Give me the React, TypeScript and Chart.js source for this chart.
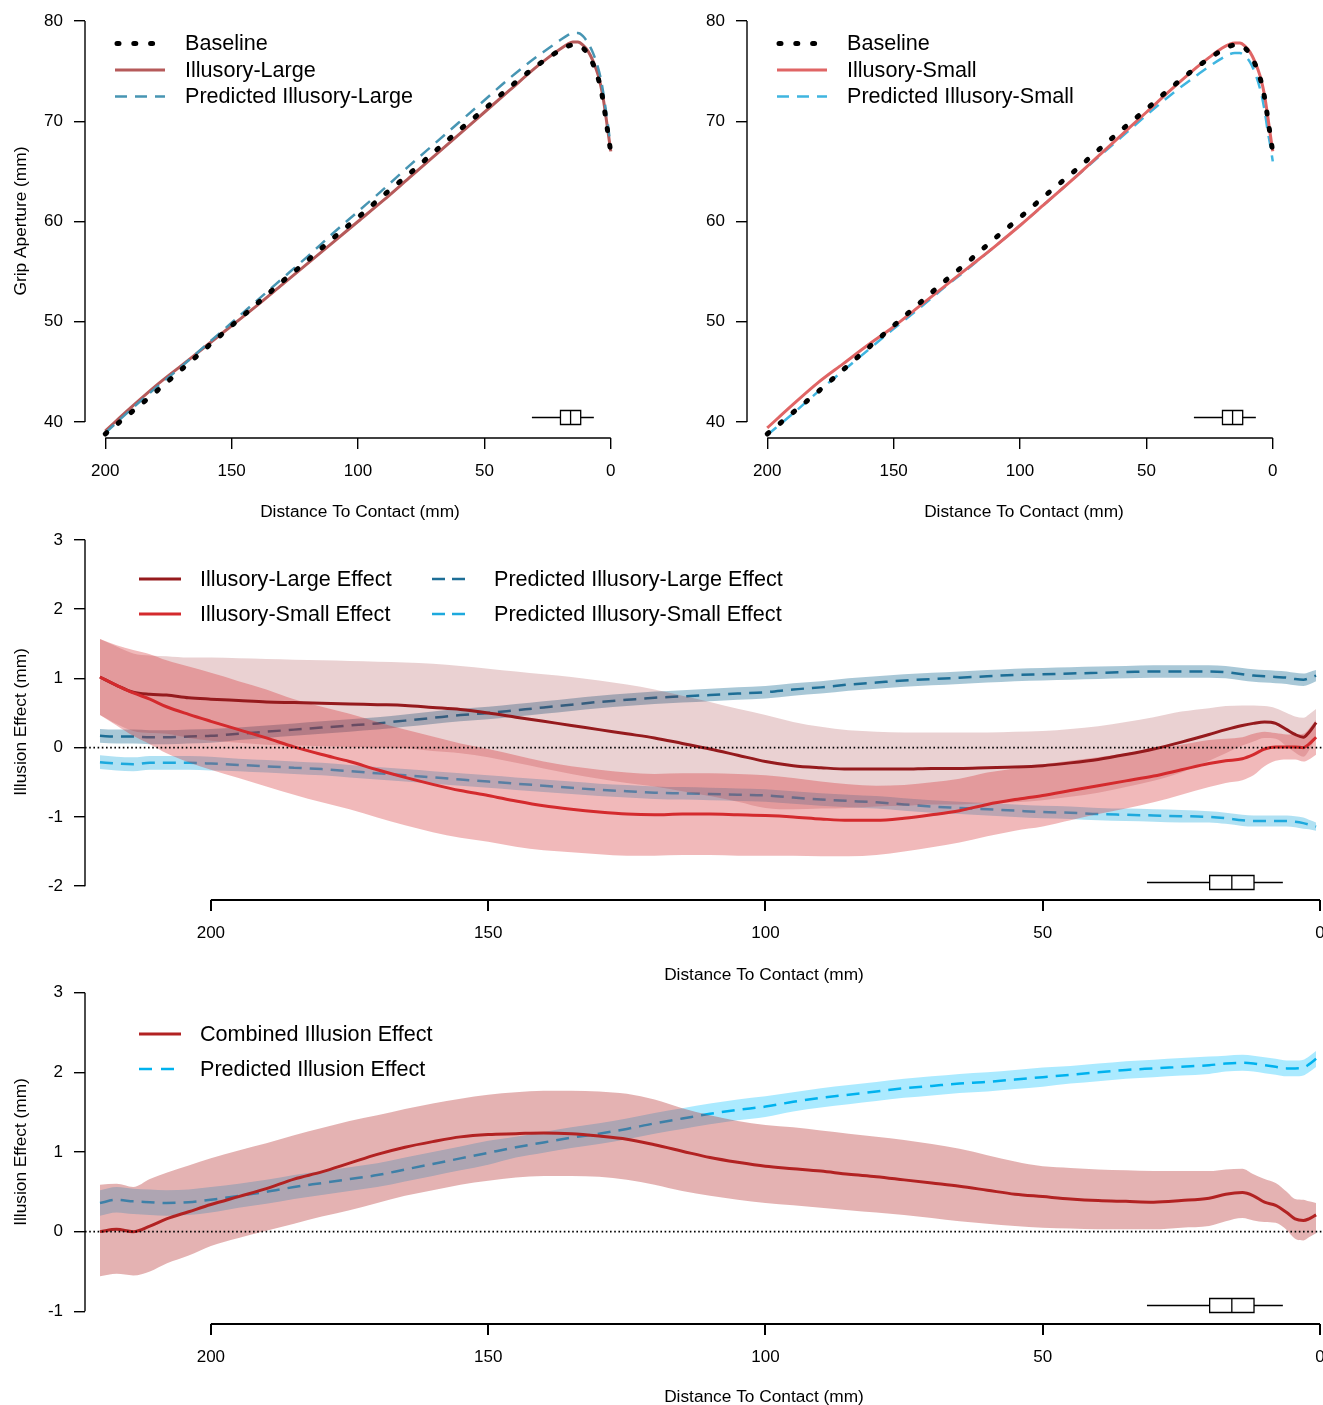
import React, { useEffect, useRef } from "react";
import { Chart, registerables } from "chart.js";

Chart.register(...registerables);

const FONT = "'Liberation Sans', Arial, Helvetica, sans-serif";

// ---------------- Top panels: grip aperture ----------------
const TOP_DIST = [200, 190, 180, 170, 160, 150, 140, 130, 120, 110, 100, 90, 80, 70, 60, 50, 40, 30, 25, 20, 17, 15, 13, 11, 9, 7, 5, 4, 3, 2, 1, 0];
const BASELINE = [38.8, 40.9, 43.0, 45.2, 47.4, 49.6, 51.8, 54.0, 56.1, 58.3, 60.4, 62.6, 64.7, 66.9, 69.1, 71.2, 73.4, 75.4, 76.3, 77.1, 77.5, 77.6, 77.6, 77.3, 76.7, 75.7, 74.3, 73.3, 72.0, 70.3, 68.6, 66.9];
const ILLUSORY_LARGE = [39.1, 41.4, 43.6, 45.6, 47.6, 49.6, 51.6, 53.7, 55.8, 57.9, 60.0, 62.1, 64.3, 66.5, 68.7, 70.9, 73.1, 75.3, 76.3, 77.2, 77.7, 77.9, 77.9, 77.6, 77.0, 76.0, 74.6, 73.6, 72.3, 70.6, 68.8, 67.0];
const PRED_ILLUSORY_LARGE = [38.9, 41.2, 43.4, 45.5, 47.7, 49.9, 52.1, 54.3, 56.5, 58.8, 61.0, 63.2, 65.5, 67.7, 69.9, 72.1, 74.3, 76.3, 77.2, 78.1, 78.6, 78.8, 78.8, 78.5, 77.8, 76.8, 75.3, 74.3, 72.9, 71.2, 69.4, 67.4];
const ILLUSORY_SMALL = [39.4, 41.7, 43.9, 45.8, 47.7, 49.5, 51.5, 53.5, 55.5, 57.5, 59.6, 61.8, 64.0, 66.3, 68.6, 70.9, 73.2, 75.4, 76.4, 77.3, 77.7, 77.8, 77.8, 77.5, 76.9, 75.9, 74.5, 73.5, 72.2, 70.5, 68.7, 67.0];
const PRED_ILLUSORY_SMALL = [38.7, 40.8, 43.0, 45.1, 47.2, 49.3, 51.3, 53.4, 55.4, 57.5, 59.6, 61.8, 64.0, 66.2, 68.4, 70.6, 72.7, 74.6, 75.5, 76.3, 76.7, 76.8, 76.8, 76.5, 75.9, 74.8, 73.2, 72.1, 70.7, 69.0, 67.6, 66.0];
const TOP_X_TICKS = [200, 150, 100, 50, 0];
const TOP_Y_TICKS = [40, 50, 60, 70, 80];

// ---------------- Effect panels ----------------
const EFFECT_DIST = [220, 217, 214, 211, 208, 204, 200, 195, 190, 185, 180, 175, 170, 165, 160, 155, 150, 145, 140, 135, 130, 125, 120, 115, 110, 105, 100, 95, 90, 85, 80, 75, 70, 65, 60, 55, 50, 45, 40, 35, 30, 25, 20, 17, 14, 12, 10, 8, 6, 4.5, 3, 2, 0.7];

const LARGE_EFFECT = [1.02, 0.90, 0.80, 0.77, 0.76, 0.72, 0.70, 0.68, 0.66, 0.65, 0.64, 0.63, 0.62, 0.61, 0.58, 0.55, 0.50, 0.44, 0.38, 0.32, 0.26, 0.20, 0.14, 0.06, -0.02, -0.11, -0.20, -0.26, -0.29, -0.31, -0.31, -0.31, -0.30, -0.30, -0.29, -0.28, -0.26, -0.22, -0.17, -0.10, -0.02, 0.08, 0.19, 0.26, 0.32, 0.35, 0.37, 0.35, 0.26, 0.19, 0.15, 0.22, 0.36];
const LARGE_EFFECT_UPPER = [1.57, 1.46, 1.36, 1.33, 1.32, 1.30, 1.30, 1.29, 1.28, 1.27, 1.26, 1.25, 1.24, 1.23, 1.21, 1.18, 1.14, 1.10, 1.06, 1.02, 0.97, 0.91, 0.84, 0.75, 0.66, 0.56, 0.47, 0.37, 0.30, 0.25, 0.23, 0.22, 0.22, 0.22, 0.22, 0.23, 0.24, 0.27, 0.31, 0.37, 0.44, 0.52, 0.57, 0.60, 0.61, 0.61, 0.60, 0.57, 0.50, 0.45, 0.43, 0.48, 0.56];
const LARGE_EFFECT_LOWER = [0.47, 0.34, 0.24, 0.21, 0.20, 0.14, 0.10, 0.07, 0.04, 0.03, 0.02, 0.01, 0.00, -0.01, -0.05, -0.08, -0.14, -0.22, -0.30, -0.38, -0.45, -0.51, -0.56, -0.63, -0.70, -0.78, -0.87, -0.89, -0.88, -0.87, -0.85, -0.84, -0.82, -0.82, -0.80, -0.79, -0.76, -0.71, -0.65, -0.57, -0.48, -0.36, -0.19, -0.08, 0.03, 0.09, 0.14, 0.13, 0.02, -0.07, -0.13, -0.04, 0.16];

const SMALL_EFFECT = [1.02, 0.90, 0.79, 0.70, 0.59, 0.48, 0.38, 0.26, 0.14, 0.01, -0.10, -0.20, -0.32, -0.43, -0.53, -0.62, -0.69, -0.77, -0.84, -0.89, -0.93, -0.96, -0.97, -0.96, -0.96, -0.97, -0.98, -1.00, -1.03, -1.05, -1.05, -1.02, -0.97, -0.91, -0.82, -0.75, -0.69, -0.62, -0.55, -0.48, -0.41, -0.32, -0.23, -0.19, -0.16, -0.10, -0.02, 0.01, 0.01, 0.01, 0.00, 0.05, 0.15];
const SMALL_EFFECT_UPPER = [1.57, 1.48, 1.41, 1.35, 1.26, 1.17, 1.08, 0.96, 0.84, 0.70, 0.59, 0.49, 0.37, 0.26, 0.16, 0.06, -0.02, -0.11, -0.20, -0.27, -0.32, -0.36, -0.38, -0.37, -0.37, -0.38, -0.40, -0.44, -0.49, -0.53, -0.55, -0.54, -0.50, -0.45, -0.36, -0.30, -0.24, -0.19, -0.14, -0.08, -0.03, 0.04, 0.11, 0.13, 0.15, 0.20, 0.23, 0.21, 0.19, 0.19, 0.20, 0.27, 0.40];
const SMALL_EFFECT_LOWER = [0.47, 0.32, 0.17, 0.05, -0.08, -0.21, -0.32, -0.44, -0.56, -0.68, -0.79, -0.89, -1.01, -1.12, -1.22, -1.30, -1.36, -1.43, -1.48, -1.51, -1.54, -1.56, -1.56, -1.55, -1.55, -1.56, -1.56, -1.56, -1.57, -1.57, -1.55, -1.50, -1.44, -1.37, -1.28, -1.20, -1.14, -1.05, -0.96, -0.88, -0.79, -0.68, -0.57, -0.51, -0.47, -0.40, -0.27, -0.19, -0.17, -0.17, -0.20, -0.17, -0.10];

const PRED_LARGE_EFFECT = [0.17, 0.16, 0.16, 0.15, 0.15, 0.16, 0.17, 0.20, 0.23, 0.26, 0.29, 0.32, 0.35, 0.39, 0.43, 0.47, 0.50, 0.54, 0.58, 0.62, 0.66, 0.69, 0.72, 0.74, 0.76, 0.78, 0.80, 0.84, 0.87, 0.91, 0.94, 0.97, 0.99, 1.01, 1.03, 1.05, 1.06, 1.07, 1.08, 1.09, 1.10, 1.10, 1.10, 1.09, 1.06, 1.04, 1.03, 1.02, 1.01, 0.99, 0.98, 1.00, 1.04];
const PRED_LARGE_EFFECT_UPPER = [0.27, 0.26, 0.26, 0.25, 0.25, 0.26, 0.27, 0.29, 0.32, 0.35, 0.38, 0.41, 0.44, 0.48, 0.52, 0.56, 0.59, 0.63, 0.67, 0.71, 0.75, 0.78, 0.81, 0.83, 0.85, 0.87, 0.89, 0.93, 0.96, 1.00, 1.03, 1.06, 1.08, 1.10, 1.12, 1.14, 1.15, 1.16, 1.17, 1.18, 1.19, 1.19, 1.19, 1.18, 1.15, 1.13, 1.12, 1.11, 1.10, 1.08, 1.07, 1.09, 1.12];
const PRED_LARGE_EFFECT_LOWER = [0.07, 0.06, 0.06, 0.05, 0.05, 0.06, 0.07, 0.11, 0.14, 0.17, 0.20, 0.23, 0.26, 0.30, 0.34, 0.38, 0.41, 0.45, 0.49, 0.53, 0.57, 0.60, 0.63, 0.65, 0.67, 0.69, 0.71, 0.75, 0.78, 0.82, 0.85, 0.88, 0.90, 0.92, 0.94, 0.96, 0.97, 0.98, 0.99, 1.00, 1.01, 1.01, 1.01, 1.00, 0.97, 0.95, 0.94, 0.93, 0.92, 0.90, 0.89, 0.91, 0.96];

const PRED_SMALL_EFFECT = [-0.21, -0.23, -0.24, -0.22, -0.22, -0.22, -0.23, -0.25, -0.27, -0.29, -0.31, -0.34, -0.37, -0.40, -0.43, -0.46, -0.49, -0.52, -0.55, -0.58, -0.61, -0.63, -0.65, -0.66, -0.67, -0.68, -0.69, -0.72, -0.75, -0.77, -0.79, -0.82, -0.85, -0.87, -0.89, -0.91, -0.93, -0.94, -0.96, -0.97, -0.98, -0.99, -1.00, -1.02, -1.05, -1.06, -1.06, -1.06, -1.06, -1.07, -1.09, -1.11, -1.14];
const PRED_SMALL_EFFECT_UPPER = [-0.11, -0.13, -0.14, -0.12, -0.12, -0.12, -0.13, -0.16, -0.18, -0.20, -0.22, -0.25, -0.28, -0.31, -0.34, -0.37, -0.40, -0.43, -0.46, -0.49, -0.52, -0.54, -0.56, -0.57, -0.58, -0.59, -0.60, -0.63, -0.66, -0.68, -0.70, -0.73, -0.76, -0.78, -0.80, -0.82, -0.84, -0.85, -0.87, -0.88, -0.89, -0.90, -0.92, -0.94, -0.97, -0.98, -0.98, -0.98, -0.98, -0.99, -1.01, -1.04, -1.08];
const PRED_SMALL_EFFECT_LOWER = [-0.31, -0.33, -0.34, -0.32, -0.32, -0.32, -0.33, -0.34, -0.36, -0.38, -0.40, -0.43, -0.46, -0.49, -0.52, -0.55, -0.58, -0.61, -0.64, -0.67, -0.70, -0.72, -0.74, -0.75, -0.76, -0.77, -0.78, -0.81, -0.84, -0.86, -0.88, -0.91, -0.94, -0.96, -0.98, -1.00, -1.02, -1.03, -1.05, -1.06, -1.07, -1.08, -1.08, -1.10, -1.13, -1.14, -1.14, -1.14, -1.14, -1.15, -1.17, -1.18, -1.20];

const COMBINED_EFFECT = [0.00, 0.03, 0.00, 0.07, 0.16, 0.25, 0.34, 0.44, 0.54, 0.66, 0.75, 0.86, 0.97, 1.06, 1.13, 1.19, 1.22, 1.23, 1.24, 1.23, 1.20, 1.16, 1.09, 1.01, 0.93, 0.87, 0.82, 0.79, 0.76, 0.72, 0.69, 0.65, 0.61, 0.57, 0.52, 0.47, 0.44, 0.41, 0.39, 0.38, 0.37, 0.39, 0.42, 0.47, 0.49, 0.45, 0.37, 0.33, 0.24, 0.16, 0.14, 0.16, 0.21];
const COMBINED_EFFECT_UPPER = [0.59, 0.60, 0.56, 0.66, 0.74, 0.83, 0.92, 1.02, 1.11, 1.21, 1.30, 1.39, 1.46, 1.54, 1.61, 1.67, 1.72, 1.75, 1.77, 1.77, 1.76, 1.73, 1.66, 1.55, 1.46, 1.39, 1.34, 1.31, 1.27, 1.23, 1.19, 1.15, 1.10, 1.04, 0.96, 0.88, 0.82, 0.80, 0.78, 0.77, 0.76, 0.76, 0.76, 0.78, 0.79, 0.72, 0.66, 0.61, 0.50, 0.41, 0.40, 0.38, 0.36];
const COMBINED_EFFECT_LOWER = [-0.56, -0.53, -0.55, -0.50, -0.40, -0.30, -0.18, -0.08, 0.01, 0.10, 0.19, 0.27, 0.36, 0.45, 0.52, 0.59, 0.64, 0.68, 0.70, 0.70, 0.69, 0.65, 0.59, 0.51, 0.45, 0.40, 0.36, 0.33, 0.30, 0.27, 0.24, 0.21, 0.17, 0.13, 0.10, 0.07, 0.05, 0.04, 0.03, 0.03, 0.03, 0.05, 0.07, 0.13, 0.17, 0.14, 0.12, 0.11, 0.02, -0.09, -0.11, -0.07, -0.02];

const PRED_EFFECT = [0.36, 0.40, 0.38, 0.37, 0.36, 0.37, 0.40, 0.45, 0.50, 0.56, 0.61, 0.66, 0.71, 0.78, 0.85, 0.92, 0.99, 1.06, 1.12, 1.18, 1.23, 1.29, 1.36, 1.42, 1.48, 1.53, 1.57, 1.63, 1.68, 1.72, 1.76, 1.80, 1.83, 1.86, 1.88, 1.91, 1.94, 1.97, 2.00, 2.03, 2.05, 2.07, 2.09, 2.11, 2.12, 2.11, 2.09, 2.07, 2.05, 2.05, 2.06, 2.10, 2.17];
const PRED_EFFECT_UPPER = [0.52, 0.56, 0.54, 0.53, 0.52, 0.53, 0.56, 0.60, 0.65, 0.71, 0.76, 0.81, 0.86, 0.93, 1.00, 1.07, 1.14, 1.19, 1.25, 1.31, 1.36, 1.42, 1.49, 1.55, 1.61, 1.66, 1.70, 1.75, 1.80, 1.84, 1.88, 1.92, 1.95, 1.98, 2.00, 2.03, 2.06, 2.08, 2.11, 2.14, 2.16, 2.18, 2.20, 2.21, 2.22, 2.21, 2.19, 2.17, 2.15, 2.15, 2.16, 2.20, 2.27];
const PRED_EFFECT_LOWER = [0.20, 0.24, 0.22, 0.21, 0.20, 0.21, 0.24, 0.30, 0.35, 0.41, 0.46, 0.51, 0.56, 0.63, 0.70, 0.77, 0.84, 0.93, 0.99, 1.05, 1.10, 1.16, 1.23, 1.29, 1.35, 1.40, 1.44, 1.51, 1.56, 1.60, 1.64, 1.68, 1.71, 1.74, 1.76, 1.79, 1.82, 1.86, 1.89, 1.92, 1.94, 1.96, 1.98, 2.01, 2.02, 2.01, 1.99, 1.97, 1.95, 1.95, 1.96, 2.00, 2.07];

const EFFECT_X_TICKS = [200, 150, 100, 50, 0];
const MID_Y_TICKS = [-2, -1, 0, 1, 2, 3];
const BOTTOM_Y_TICKS = [-1, 0, 1, 2, 3];

// distance at peak grip aperture: whisker low, Q1, median, Q3, whisker high
const BOX_DIST = [6.7, 11.9, 15.9, 19.9, 31.2];

// ---------------- styles ----------------
type Style = { color: string; width: number; dash?: number[]; cap?: CanvasLineCap };
const ST = {
  baseline: { color: "#000000", width: 5, dash: [2, 14.8], cap: "round" } as Style,
  il: { color: "#B65A5A", width: 3 } as Style,
  pil: { color: "#4795B3", width: 2.5, dash: [12, 8] } as Style,
  is: { color: "#E06565", width: 3 } as Style,
  pis: { color: "#3FB5E0", width: 2.5, dash: [12, 8] } as Style,
  le: { color: "#951A1D", width: 3 } as Style,
  se: { color: "#D42A2D", width: 3 } as Style,
  ple: { color: "#1D6E96", width: 2.5, dash: [13, 8] } as Style,
  pse: { color: "#1DA9DD", width: 2.5, dash: [13, 8] } as Style,
  ce: { color: "#B22222", width: 3 } as Style,
  pe: { color: "#00B2EE", width: 2.5, dash: [13, 8] } as Style,
};
const BAND = {
  le: "rgba(149,26,29,0.2)",
  se: "rgba(212,42,45,0.33)",
  ple: "rgba(29,110,150,0.38)",
  pse: "rgba(29,169,221,0.35)",
  ce: "rgba(178,34,34,0.35)",
  pe: "rgba(0,191,255,0.33)",
};

type Layer =
  | { kind: "line"; xs: number[]; ys: number[]; style: Style }
  | { kind: "band"; xs: number[]; upper: number[]; lower: number[]; color: string };

type LegendItem = { label: string; style: Style; x0: number; x1: number; tx: number; y: number };

type Panel = {
  left: number; top: number; width: number; height: number;
  areaTop: number; padRight: number; areaBottom: number;
  xMin: number; xMax: number; yMin: number; yMax: number;
  xTicks: number[]; yTicks: number[];
  layers: Layer[];
  legend: LegendItem[];
  xTitle: { x: number; y: number };
  yTitle?: { x: number; y: number; text: string };
  boxY: number;
  zeroLine: boolean;
  xAxisWidth: number;
};

const line = (xs: number[], ys: number[], style: Style): Layer => ({ kind: "line", xs, ys, style });
const band = (xs: number[], upper: number[], lower: number[], color: string): Layer => ({ kind: "band", xs, upper, lower, color });

const topLegend = (items: [string, Style][]): LegendItem[] =>
  items.map(([label, style], i) => ({ label, style, x0: style.cap === "round" ? 117 : 115, x1: 165, tx: 185, y: 43.5 + i * 26.5 }));

const PANELS: Panel[] = [
  {
    left: 0, top: 0, width: 662, height: 530,
    areaTop: 5, padRight: 31, areaBottom: 438,
    xMin: -8, xMax: 208, yMin: 38.4, yMax: 81.6,
    xTicks: TOP_X_TICKS, yTicks: TOP_Y_TICKS,
    layers: [
      line(TOP_DIST, ILLUSORY_LARGE, ST.il),
      line(TOP_DIST, PRED_ILLUSORY_LARGE, ST.pil),
      line(TOP_DIST, BASELINE, ST.baseline),
    ],
    legend: topLegend([["Baseline", ST.baseline], ["Illusory-Large", ST.il], ["Predicted Illusory-Large", ST.pil]]),
    xTitle: { x: 360, y: 512 },
    yTitle: { x: 21, y: 221, text: "Grip Aperture (mm)" },
    boxY: 40.45, zeroLine: false, xAxisWidth: 1.4,
  },
  {
    left: 662, top: 0, width: 661, height: 530,
    areaTop: 5, padRight: 30, areaBottom: 438,
    xMin: -8, xMax: 208, yMin: 38.4, yMax: 81.6,
    xTicks: TOP_X_TICKS, yTicks: TOP_Y_TICKS,
    layers: [
      line(TOP_DIST, PRED_ILLUSORY_SMALL, ST.pis),
      line(TOP_DIST, ILLUSORY_SMALL, ST.is),
      line(TOP_DIST, BASELINE, ST.baseline),
    ],
    legend: topLegend([["Baseline", ST.baseline], ["Illusory-Small", ST.is], ["Predicted Illusory-Small", ST.pis]]),
    xTitle: { x: 362, y: 512 },
    boxY: 40.45, zeroLine: false, xAxisWidth: 1.4,
  },
  {
    left: 0, top: 520, width: 1323, height: 470,
    areaTop: 6, padRight: 0, areaBottom: 380,
    xMin: -0.54, xMax: 222.7, yMin: -2.2, yMax: 3.2,
    xTicks: EFFECT_X_TICKS, yTicks: MID_Y_TICKS,
    layers: [
      band(EFFECT_DIST, PRED_LARGE_EFFECT_UPPER, PRED_LARGE_EFFECT_LOWER, BAND.ple),
      line(EFFECT_DIST, PRED_LARGE_EFFECT, ST.ple),
      band(EFFECT_DIST, PRED_SMALL_EFFECT_UPPER, PRED_SMALL_EFFECT_LOWER, BAND.pse),
      line(EFFECT_DIST, PRED_SMALL_EFFECT, ST.pse),
      band(EFFECT_DIST, LARGE_EFFECT_UPPER, LARGE_EFFECT_LOWER, BAND.le),
      band(EFFECT_DIST, SMALL_EFFECT_UPPER, SMALL_EFFECT_LOWER, BAND.se),
      line(EFFECT_DIST, LARGE_EFFECT, ST.le),
      line(EFFECT_DIST, SMALL_EFFECT, ST.se),
    ],
    legend: [
      { label: "Illusory-Large Effect", style: ST.le, x0: 139, x1: 181, tx: 200, y: 59 },
      { label: "Illusory-Small Effect", style: ST.se, x0: 139, x1: 181, tx: 200, y: 94 },
      { label: "Predicted Illusory-Large Effect", style: { ...ST.ple, dash: [13, 7] }, x0: 432, x1: 465, tx: 494, y: 59 },
      { label: "Predicted Illusory-Small Effect", style: { ...ST.pse, dash: [13, 7] }, x0: 432, x1: 465, tx: 494, y: 94 },
    ],
    xTitle: { x: 764, y: 455 },
    yTitle: { x: 21, y: 202, text: "Illusion Effect (mm)" },
    boxY: -1.94, zeroLine: true, xAxisWidth: 2,
  },
  {
    left: 0, top: 970, width: 1323, height: 435,
    areaTop: 10, padRight: 0, areaBottom: 354,
    xMin: -0.54, xMax: 222.7, yMin: -1.16, yMax: 3.16,
    xTicks: EFFECT_X_TICKS, yTicks: BOTTOM_Y_TICKS,
    layers: [
      band(EFFECT_DIST, PRED_EFFECT_UPPER, PRED_EFFECT_LOWER, BAND.pe),
      line(EFFECT_DIST, PRED_EFFECT, ST.pe),
      band(EFFECT_DIST, COMBINED_EFFECT_UPPER, COMBINED_EFFECT_LOWER, BAND.ce),
      line(EFFECT_DIST, COMBINED_EFFECT, ST.ce),
    ],
    legend: [
      { label: "Combined Illusion Effect", style: ST.ce, x0: 139, x1: 181, tx: 200, y: 64 },
      { label: "Predicted Illusion Effect", style: { ...ST.pe, dash: [13, 9] }, x0: 139, x1: 181, tx: 200, y: 99 },
    ],
    xTitle: { x: 764, y: 427 },
    yTitle: { x: 21, y: 182, text: "Illusion Effect (mm)" },
    boxY: -0.925, zeroLine: true, xAxisWidth: 2,
  },
];

const pts = (xs: number[], ys: number[]) => xs.map((x, i) => ({ x, y: ys[i] }));

function buildDatasets(p: Panel) {
  const ds: any[] = [];
  const n = p.layers.length;
  p.layers.forEach((layer, i) => {
    const order = n - i;
    if (layer.kind === "band") {
      ds.push({
        data: pts(layer.xs, layer.upper), fill: "+1", backgroundColor: layer.color,
        borderWidth: 0, borderColor: "rgba(0,0,0,0)", pointRadius: 0, cubicInterpolationMode: "monotone", order,
      });
      ds.push({
        data: pts(layer.xs, layer.lower), fill: false,
        borderWidth: 0, borderColor: "rgba(0,0,0,0)", pointRadius: 0, cubicInterpolationMode: "monotone", order,
      });
    } else {
      ds.push({
        data: pts(layer.xs, layer.ys), fill: false, borderColor: layer.style.color, borderWidth: layer.style.width,
        borderDash: layer.style.dash || [], borderCapStyle: layer.style.cap || "butt", borderJoinStyle: "round",
        pointRadius: 0, cubicInterpolationMode: "monotone", order,
      });
    }
  });
  return ds;
}

function decorPlugin(p: Panel) {
  return {
    id: "decor",
    afterDatasetsDraw(chart: any) {
      const { ctx, chartArea: a, scales } = chart;
      const xs = scales.x, ys = scales.y;
      ctx.save();
      if (p.zeroLine) {
        const y0 = ys.getPixelForValue(0);
        ctx.strokeStyle = "#000";
        ctx.lineWidth = 1.6;
        ctx.setLineDash([1.6, 2.6]);
        ctx.beginPath();
        ctx.moveTo(a.left, y0);
        ctx.lineTo(a.right, y0);
        ctx.stroke();
        ctx.setLineDash([]);
      }
      const [wLo, q1, med, q3, wHi] = BOX_DIST;
      const px = (v: number) => xs.getPixelForValue(v);
      const by = Math.round(ys.getPixelForValue(p.boxY)) + 0.5;
      const h = 7;
      ctx.strokeStyle = "#000";
      ctx.lineWidth = 1.3;
      ctx.beginPath();
      ctx.moveTo(px(wHi), by); ctx.lineTo(px(q3), by);
      ctx.moveTo(px(q1), by); ctx.lineTo(px(wLo), by);
      ctx.rect(px(q3), by - h, px(q1) - px(q3), 2 * h);
      ctx.moveTo(px(med), by - h); ctx.lineTo(px(med), by + h);
      ctx.stroke();
      ctx.restore();
    },
    afterDraw(chart: any) {
      const { ctx, chartArea: a, scales } = chart;
      const xs = scales.x, ys = scales.y;
      ctx.save();
      // axis lines spanning the tick range (R style)
      ctx.strokeStyle = "#000";
      ctx.lineWidth = p.xAxisWidth;
      ctx.beginPath();
      ctx.moveTo(xs.getPixelForValue(Math.max(...p.xTicks)), a.bottom);
      ctx.lineTo(xs.getPixelForValue(Math.min(...p.xTicks)), a.bottom);
      ctx.stroke();
      ctx.lineWidth = 1.4;
      ctx.beginPath();
      ctx.moveTo(a.left, ys.getPixelForValue(Math.max(...p.yTicks)));
      ctx.lineTo(a.left, ys.getPixelForValue(Math.min(...p.yTicks)));
      ctx.stroke();

      // legend
      for (const it of p.legend) {
        ctx.save();
        ctx.strokeStyle = it.style.color;
        ctx.lineWidth = it.style.width;
        ctx.setLineDash(it.style.dash || []);
        ctx.lineCap = it.style.cap || "butt";
        ctx.beginPath();
        ctx.moveTo(it.x0, it.y);
        ctx.lineTo(it.x1, it.y);
        ctx.stroke();
        ctx.restore();
        ctx.fillStyle = "#000";
        ctx.font = `21.6px ${FONT}`;
        ctx.textAlign = "left";
        ctx.textBaseline = "middle";
        ctx.fillText(it.label, it.tx, it.y + 1);
      }

      // axis titles
      ctx.fillStyle = "#000";
      ctx.font = `17.3px ${FONT}`;
      ctx.textAlign = "center";
      ctx.textBaseline = "middle";
      ctx.fillText("Distance To Contact (mm)", p.xTitle.x, p.xTitle.y);
      if (p.yTitle) {
        ctx.save();
        ctx.translate(p.yTitle.x, p.yTitle.y);
        ctx.rotate(-Math.PI / 2);
        ctx.fillText(p.yTitle.text, 0, 0);
        ctx.restore();
      }
      ctx.restore();
    },
  };
}

function buildConfig(p: Panel): any {
  const tickFont = { family: FONT, size: 17 };
  return {
    type: "line",
    data: { datasets: buildDatasets(p) },
    options: {
      animation: false,
      responsive: false,
      devicePixelRatio: 1,
      events: [],
      layout: { padding: { left: 0, top: p.areaTop, right: p.padRight, bottom: 0 } },
      plugins: { legend: { display: false }, tooltip: { enabled: false }, filler: { propagate: false } },
      elements: { point: { radius: 0 } },
      scales: {
        x: {
          type: "linear", reverse: true, min: p.xMin, max: p.xMax,
          afterBuildTicks: (s: any) => { s.ticks = p.xTicks.map((v) => ({ value: v })); },
          afterFit: (s: any) => { s.height = p.height - p.areaBottom; s.paddingLeft = 0; s.paddingRight = 0; },
          grid: { drawOnChartArea: false, drawTicks: true, tickLength: 11, color: "#000", lineWidth: p.xAxisWidth },
          border: { display: false },
          ticks: { autoSkip: false, maxRotation: 0, minRotation: 0, padding: 12, color: "#000", font: tickFont, callback: (v: any) => String(v) },
        },
        y: {
          type: "linear", min: p.yMin, max: p.yMax,
          afterBuildTicks: (s: any) => { s.ticks = p.yTicks.map((v) => ({ value: v })); },
          afterFit: (s: any) => { s.width = 85; s.paddingTop = 0; s.paddingBottom = 0; },
          grid: { drawOnChartArea: false, drawTicks: true, tickLength: 11, color: "#000", lineWidth: 1.4 },
          border: { display: false },
          ticks: { autoSkip: false, padding: 11, color: "#000", font: tickFont, callback: (v: any) => String(v) },
        },
      },
    },
    plugins: [decorPlugin(p)],
  };
}

function PanelChart({ panel }: { panel: Panel }) {
  const ref = useRef<HTMLCanvasElement | null>(null);
  useEffect(() => {
    if (!ref.current) return;
    const chart = new Chart(ref.current, buildConfig(panel));
    return () => chart.destroy();
  }, [panel]);
  return (
    <canvas
      ref={ref}
      width={panel.width}
      height={panel.height}
      style={{ position: "absolute", left: panel.left, top: panel.top, width: panel.width, height: panel.height }}
    />
  );
}

export default function App() {
  return (
    <div style={{ position: "absolute", left: 0, top: 0, width: 1323, height: 1405, background: "#ffffff", overflow: "hidden" }}>
      {PANELS.map((p, i) => (
        <PanelChart key={i} panel={p} />
      ))}
    </div>
  );
}
